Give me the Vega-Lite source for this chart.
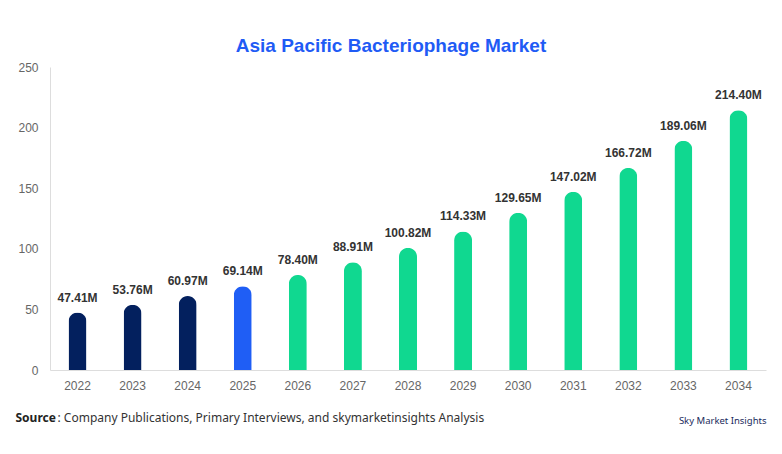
{
  "$schema": "https://vega.github.io/schema/vega-lite/v6.json",
  "autosize": {"type": "none"},
  "padding": {"left": 50, "top": 67, "right": 16, "bottom": 84},
  "width": 716,
  "height": 303,
  "background": "#ffffff",
  "config": {
    "view": {"stroke": null},
    "font": "Liberation Sans",
    "axis": {"labelFont": "Liberation Sans", "labelFontSize": 12, "labelColor": "#666666", "domainColor": "#dddddd", "ticks": false, "grid": false}
  },
  "title": {
    "text": "Asia Pacific Bacteriophage Market",
    "anchor": "middle",
    "dx": -17,
    "offset": 5,
    "fontSize": 19,
    "font": "Liberation Sans",
    "fontWeight": "bold",
    "color": "#1f5bf5"
  },
  "data": {
    "values": [
      {"year": "2022", "value": 47.41, "segment": "historical"},
      {"year": "2023", "value": 53.76, "segment": "historical"},
      {"year": "2024", "value": 60.97, "segment": "historical"},
      {"year": "2025", "value": 69.14, "segment": "current"},
      {"year": "2026", "value": 78.40, "segment": "forecast"},
      {"year": "2027", "value": 88.91, "segment": "forecast"},
      {"year": "2028", "value": 100.82, "segment": "forecast"},
      {"year": "2029", "value": 114.33, "segment": "forecast"},
      {"year": "2030", "value": 129.65, "segment": "forecast"},
      {"year": "2031", "value": 147.02, "segment": "forecast"},
      {"year": "2032", "value": 166.72, "segment": "forecast"},
      {"year": "2033", "value": 189.06, "segment": "forecast"},
      {"year": "2034", "value": 214.40, "segment": "forecast"}
    ]
  },
  "encoding": {
    "x": {
      "field": "year", "type": "ordinal", "sort": null,
      "scale": {"paddingInner": 0, "paddingOuter": 0},
      "axis": {
        "labelAngle": 0, "labelPadding": 10,
        "title": ": Company Publications, Primary Interviews, and skymarketinsights Analysis",
        "titleFont": "Noto Sans", "titleFontSize": 12, "titleFontWeight": "normal", "titleColor": "#333333",
        "titleAnchor": null, "titleAlign": "left", "titleBaseline": "middle",
        "titleX": 7, "titleY": 47
      }
    }
  },
  "layer": [
    {
      "mark": {"type": "bar", "size": 18, "cornerRadiusTopLeft": 9, "cornerRadiusTopRight": 9},
      "encoding": {
        "y": {
          "field": "value", "type": "quantitative",
          "scale": {"domain": [0, 250]},
          "axis": {
            "values": [0, 50, 100, 150, 200, 250], "labelPadding": 12,
            "title": "Source",
            "titleFont": "Noto Sans", "titleFontSize": 12, "titleFontWeight": "bold", "titleColor": "#222222",
            "titleAngle": 0, "titleAnchor": null, "titleAlign": "left", "titleBaseline": "middle",
            "titleX": -35, "titleY": 350
          }
        },
        "color": {
          "field": "segment", "type": "nominal",
          "scale": {"domain": ["historical", "current", "forecast"], "range": ["#03205e", "#1f5ef5", "#10d890"]},
          "legend": null
        }
      }
    },
    {
      "mark": {"type": "text", "baseline": "bottom", "dy": -8, "fontSize": 12, "fontWeight": "bold", "color": "#333333", "font": "Liberation Sans",
        "text": {"expr": "format(datum.value, '.2f') + 'M'"}},
      "encoding": {
        "y": {
          "field": "value", "type": "quantitative",
          "scale": {"domain": [0, 250]},
          "axis": {
            "orient": "right", "labels": false, "domain": false, "ticks": false,
            "title": "Sky Market Insights",
            "titleFont": "Noto Sans", "titleFontSize": 9.5, "titleFontWeight": "normal", "titleColor": "#1a2a5c",
            "titleAngle": 0, "titleAnchor": null, "titleAlign": "right", "titleBaseline": "middle",
            "titleX": 0, "titleY": 353
          }
        }
      }
    }
  ],
  "resolve": {"scale": {"y": "independent"}}
}
